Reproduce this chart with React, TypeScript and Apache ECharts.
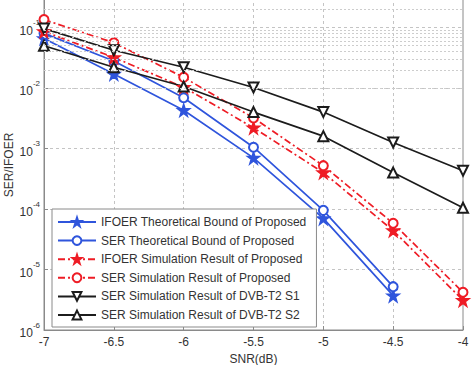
import React, { useEffect, useRef } from "react";
import * as echarts from "echarts";

const snr = [-7, -6.5, -6, -5.5, -5, -4.5, -4];
const ifoerTheory = [0.066, 0.017, 0.0043, 0.0007, 7e-5, 3.7e-6];
const serTheory = [0.08, 0.028, 0.0069, 0.00105, 9.5e-5, 5.2e-6];
const ifoerSim = [0.086, 0.032, 0.0103, 0.0022, 0.0004, 4.4e-5, 3.1e-6];
const serSim = [0.135, 0.056, 0.015, 0.0032, 0.00052, 5.8e-5, 4.2e-6];
const dvbS1 = [0.096, 0.042, 0.022, 0.0102, 0.004, 0.00126, 4.3e-4];
const dvbS2 = [0.05, 0.022, 0.0106, 0.004, 0.0016, 0.0004, 1.05e-4];

const seriesNames = [
  "IFOER Theoretical Bound of Proposed",
  "SER Theoretical Bound of Proposed",
  "IFOER Simulation Result of Proposed",
  "SER Simulation Result of Proposed",
  "SER Simulation Result of DVB-T2 S1",
  "SER Simulation Result of DVB-T2 S2",
];

const STAR =
  "path://M12,0 L14.8,8.6 L24,8.6 L16.6,14 L19.4,22.8 L12,17.4 L4.6,22.8 L7.4,14 L0,8.6 L9.2,8.6 Z";

const BLUE = "#2f55dc";
const RED = "#ee1c25";
const BLACK = "#1c1c1c";
const FONT = "Liberation Sans";
const SHIFT = 33;

function pairs(vals: number[]) {
  return vals.map((v, i) => [snr[i], v]);
}

export default function App() {
  const ref = useRef<HTMLDivElement>(null);
  useEffect(() => {
    if (!ref.current) return;
    const chart = echarts.init(ref.current, undefined, { renderer: "svg" });
    const minorVals: number[] = [];
    for (let e = -6; e < 0; e++) {
      for (let k = 2; k <= 9; k++) minorVals.push(k * Math.pow(10, e));
    }
    const dashDot = [7, 3, 2, 3];
    const mk = (
      name: string,
      data: number[],
      color: string,
      symbol: string,
      size: number,
      dashed: boolean,
      rotate = 0
    ) => ({
      name,
      type: "line",
      data: pairs(data),
      symbol,
      symbolSize: size,
      symbolRotate: rotate,
      showSymbol: true,
      z: 3,
      itemStyle: { color, borderColor: color, borderWidth: 1.5 },
      lineStyle: { color, width: 1.7, type: dashed ? dashDot : "solid" },
    });
    chart.setOption({
      animation: false,
      textStyle: { fontFamily: FONT },
      grid: {
        left: 44,
        right: 11,
        top: 0,
        bottom: 35,
        outerBoundsMode: "none",
        containLabel: false,
        show: true,
        borderColor: "#8a8a8a",
        borderWidth: 1,
        backgroundColor: "#fff",
      },
      xAxis: {
        type: "value",
        min: -7,
        max: -4,
        interval: 0.5,
        name: "SNR(dB)",
        nameLocation: "middle",
        nameGap: 19,
        nameTextStyle: { fontSize: 12, color: "#333", fontFamily: FONT },
        axisLine: { show: true, lineStyle: { color: "#8a8a8a" } },
        axisTick: { show: true, inside: true, length: 4, lineStyle: { color: "#8a8a8a" } },
        axisLabel: { fontSize: 12, color: "#333", margin: 6, fontFamily: FONT },
        splitLine: { show: true, lineStyle: { color: "#c4c4c4", type: [3, 3], width: 1 } },
      },
      yAxis: {
        type: "log",
        logBase: 10,
        min: 1e-6,
        max: 1,
        axisLine: { show: true, lineStyle: { color: "#8a8a8a" } },
        axisTick: { show: true, inside: true, length: 4, lineStyle: { color: "#8a8a8a" } },
        axisLabel: {
          margin: 4,
          formatter: (v: number) =>
            v >= 0.5 ? "" : "{b|10}{s|" + Math.round(Math.log10(v)) + "}",
          rich: {
            b: { fontSize: 12, color: "#333", fontFamily: FONT, lineHeight: 18, verticalAlign: "bottom" },
            s: { fontSize: 8, color: "#333", fontFamily: FONT, lineHeight: 18, verticalAlign: "top" },
          },
        },
        splitLine: { show: true, lineStyle: { color: "#c4c4c4", type: [3, 3], width: 1 } },
      },
      legend: {
        orient: "vertical",
        left: 52,
        top: 209 + SHIFT,
        data: seriesNames,
        itemWidth: 38,
        itemHeight: 11,
        itemGap: 6.6,
        padding: [7, 10, 6, 5],
        backgroundColor: "#fff",
        borderColor: "#8a8a8a",
        borderWidth: 1,
        borderRadius: 0,
        textStyle: { fontSize: 12, color: "#333", fontFamily: FONT },
      },
      graphic: [
        {
          type: "text",
          x: 9,
          y: 165 + SHIFT,
          rotation: Math.PI / 2,
          style: {
            text: "SER/IFOER",
            fontSize: 12,
            fill: "#333",
            fontFamily: FONT,
            textAlign: "center",
            textVerticalAlign: "middle",
          },
        },
      ],
      series: [
        {
          name: "minor-grid",
          type: "line",
          data: [],
          z: 1,
          silent: true,
          markLine: {
            silent: true,
            symbol: ["none", "none"],
            label: { show: false },
            lineStyle: { color: "#cdcdcd", type: [2, 2], width: 1 },
            data: minorVals.map((v) => ({ yAxis: v })),
          },
        },
        mk(seriesNames[0], ifoerTheory, BLUE, STAR, 12, false),
        mk(seriesNames[1], serTheory, BLUE, "emptyCircle", 9, false),
        mk(seriesNames[2], ifoerSim, RED, STAR, 12, true),
        mk(seriesNames[3], serSim, RED, "emptyCircle", 9, true),
        mk(seriesNames[4], dvbS1, BLACK, "emptyTriangle", 10, false, 180),
        mk(seriesNames[5], dvbS2, BLACK, "emptyTriangle", 10, false),
      ],
    });
    return () => chart.dispose();
  }, []);
  return (
    <div
      ref={ref}
      style={{ position: "absolute", left: 0, top: -SHIFT, width: 474, height: 365 + SHIFT }}
    />
  );
}
